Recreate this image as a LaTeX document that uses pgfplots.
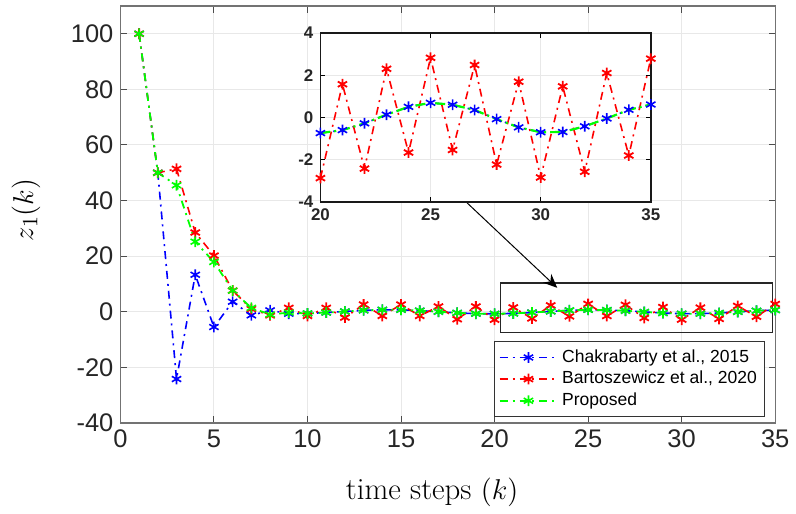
\documentclass[border=0pt]{standalone}
\usepackage{fontspec}
\usepackage{pgfplots}
\usepackage{pgfplotstable}
\pgfplotsset{compat=1.18}
\usetikzlibrary{arrows.meta}
\newfontfamily\arial{Liberation Sans}

\pgfplotstableread{
k blue red green
1 100 100 100
2 50 50 50
3 -24.2 51.4 45.5
4 13.3 28.5 25.2
5 -5.5 20.2 17.9
6 3.6 7.6 7.6
7 -1.3 1.0 1.4
8 0.5 -1.3 -1.0
9 -0.7 1.4 -0.3
10 -0.6 -1.5 -0.6
11 -0.3 1.4 -0.3
12 0.1 -2.1 0.1
13 0.5 2.6 0.5
14 0.7 -1.5 0.7
15 0.7 2.6 0.7
16 0.4 -1.5 0.4
17 0.0 1.9 0.0
18 -0.4 -2.7 -0.4
19 -0.7 1.9 -0.7
20 -0.74 -2.87 -0.74
21 -0.60 1.57 -0.60
22 -0.28 -2.42 -0.28
23 0.13 2.30 0.13
24 0.50 -1.66 0.50
25 0.69 2.82 0.69
26 0.60 -1.54 0.60
27 0.35 2.48 0.35
28 -0.08 -2.23 -0.08
29 -0.47 1.69 -0.47
30 -0.70 -2.84 -0.70
31 -0.69 1.47 -0.69
32 -0.42 -2.57 -0.42
33 -0.05 2.10 -0.05
34 0.36 -1.80 0.36
35 0.61 2.78 0.61
}\zdata

\tikzset{
  dashdot/.style={dash pattern=on 4pt off 2.5pt on 1pt off 2.5pt},
}
\pgfplotsset{
  blueline/.style={blue, line width=0.8pt, dashdot, mark=asterisk, mark size=2.7pt, mark options={solid, line width=0.8pt}},
  redline/.style={red, line width=0.8pt, dashdot, mark=asterisk, mark size=2.7pt, mark options={solid, line width=0.9pt}},
  greenline/.style={green, line width=0.9pt, dashdot, mark=asterisk, mark size=2.7pt, mark options={solid, line width=0.8pt}},
}

\begin{document}
\begin{tikzpicture}
\begin{axis}[
    name=main,
    width=329pt, height=209.5pt, scale only axis,
    xmin=0, xmax=35, ymin=-40, ymax=110,
    xtick={0,5,...,35}, ytick={-40,-20,...,100},
    grid=major, grid style={gray!18, line width=0.5pt},
    axis line style={black!55, line width=0.6pt},
    tick style={black!70, line width=0.5pt},
    major tick length=3.3pt,
    tick label style={font=\arial\fontsize{12.8}{14}\selectfont, text=black!85},
    /pgf/number format/assume math mode=true,
    xlabel={\fontsize{15.5}{18}\selectfont time steps $(k)$},
    xlabel style={at={(axis description cs:0.476,0)}, anchor=base, yshift=-38.5pt},
    ylabel={\fontsize{15.5}{18}\selectfont $z_1(k)$},
    ylabel style={at={(axis description cs:-0.1444,0.511)}, anchor=center},
    legend style={at={(axis description cs:1,0)}, anchor=south east,
        xshift=-5pt, yshift=3pt, draw=black!80,
        font=\arial\fontsize{8.8}{10}\selectfont,
        cells={anchor=west}, row sep=-1pt, inner sep=2pt},
    legend image code/.code={\draw[mark repeat=2, mark phase=2] plot coordinates {(0pt,0pt) (14.5pt,0pt) (29pt,0pt)};},
]
\addplot[blueline] table[x=k, y=blue] {\zdata};
\addplot[redline] table[x=k, y=red] {\zdata};
\addplot[greenline] table[x=k, y=green] {\zdata};
\legend{{Chakrabarty et al., 2015}, {Bartoszewicz et al., 2020}, {Proposed}}
\draw[black!85, line width=0.6pt] (axis cs:20.3,-7.5) rectangle (axis cs:34.84,10.36);
\draw[black, line width=0.5pt, -{Stealth[length=7pt, width=6pt]}] (axis cs:18.4,40) -- (axis cs:23.35,8.6);
\coordinate (SW) at (rel axis cs:0,0);
\end{axis}

\begin{axis}[
    at={(SW)}, anchor=south west, xshift=100.5pt, yshift=111pt,
    width=166pt, height=85pt, scale only axis,
    xmin=20, xmax=35, ymin=-4, ymax=4,
    xtick={20,25,30,35}, ytick={-4,-2,...,4},
    grid=major, grid style={gray!18, line width=0.5pt},
    axis background/.style={fill=white},
    axis line style={black!90, line width=0.9pt},
    tick style={black, line width=0.5pt},
    major tick length=2.5pt,
    tick label style={font=\arial\bfseries\fontsize{8.5}{10}\selectfont, text=black!85},
    /pgf/number format/assume math mode=true,
    clip=false,
]
\addplot[blueline] table[x=k, y=blue, restrict x to domain=20:35] {\zdata};
\addplot[redline] table[x=k, y=red, restrict x to domain=20:35] {\zdata};
\addplot[green, line width=1.1pt, dash pattern=on 5pt off 2pt on 1pt off 2pt] table[x=k, y=green, restrict x to domain=20:35] {\zdata};
\end{axis}

\path (SW) ++(-60.5pt,-44pt) rectangle ++(398pt,256.5pt);
\end{tikzpicture}
\end{document}
